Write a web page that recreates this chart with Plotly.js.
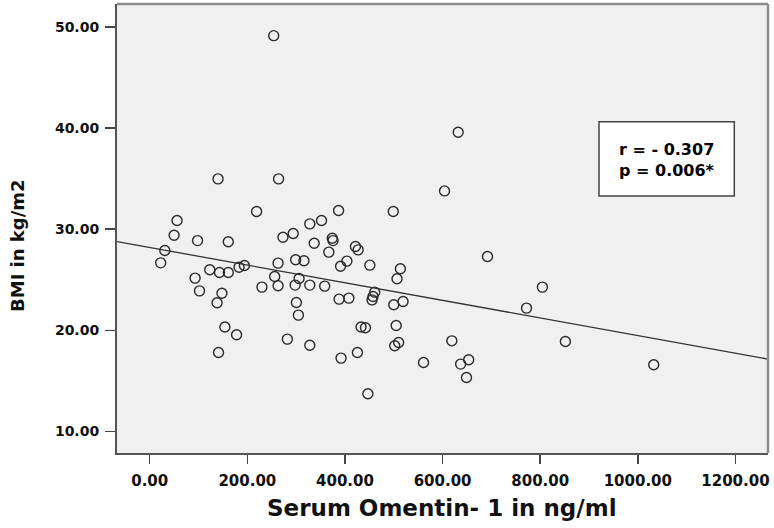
<!DOCTYPE html>
<html>
<head>
<meta charset="utf-8">
<script src="https://cdn.plot.ly/plotly-3.0.1.min.js"></script>
<style>html,body{margin:0;padding:0;background:#fff;}#chart{width:774px;height:528px;}</style>
</head>
<body>
<div id="chart"></div>
<script>
// Serum Omentin-1 (ng/ml) values
const omentin = [254, 140, 264, 219, 56, 328, 352, 632, 604, 387, 499, 50, 98, 161, 31, 22.5,
  123, 143, 161, 183, 194, 93, 230, 102, 148, 138, 154, 178, 141, 273, 294, 374, 375.5, 337,
  421.5, 427, 367, 263, 299, 316, 404, 391, 451, 256, 306, 263, 298, 328, 358.5, 388, 408,
  461, 457.5, 455.5, 300.5, 304.6, 433, 442, 282, 328, 392, 425.5, 447, 692, 513.6, 506.7,
  500, 519, 505, 502, 510, 619, 561, 637, 653.5, 649, 772, 804.5, 851.6, 1032.6];
// BMI (kg/m2) values
const bmi = [49.13, 34.97, 34.97, 31.74, 30.85, 30.52, 30.85, 39.58, 33.78, 31.84, 31.74, 29.4,
  28.87, 28.75, 27.89, 26.67, 25.98, 25.71, 25.71, 26.24, 26.4, 25.16, 24.27, 23.9, 23.67,
  22.72, 20.32, 19.56, 17.81, 29.2, 29.57, 29.1, 28.87, 28.6, 28.28, 27.95, 27.73, 26.64,
  26.97, 26.87, 26.84, 26.34, 26.44, 25.32, 25.12, 24.4, 24.47, 24.47, 24.37, 23.08, 23.18,
  23.77, 23.34, 23.01, 22.75, 21.5, 20.32, 20.25, 19.13, 18.53, 17.25, 17.81, 13.73, 27.29,
  26.08, 25.09, 22.52, 22.85, 20.47, 18.47, 18.8, 18.96, 16.82, 16.66, 17.09, 15.34, 22.19,
  24.27, 18.89, 16.59];
// Fit line
const fitIntercept = 28.19;
const fitSlope = -0.008713;
const xRange = [-67, 1266.7];
const yRange = [7.87, 52.26];
const xTicks = [0, 200, 400, 600, 800, 1000, 1200];
const yTicks = [10, 20, 30, 40, 50];
const statLines = ['r = - 0.307', 'p = 0.006*'];
const xTitle = 'Serum Omentin- 1 in ng/ml';
const yTitle = 'BMI in kg/m2';

const fitX = xRange.slice();
const fitY = fitX.map(x => fitIntercept + fitSlope * x);

const F = 'DejaVu Sans, Arial, sans-serif';

const traces = [
  {
    x: omentin, y: bmi, type: 'scatter', mode: 'markers',
    marker: {symbol: 'circle-open', size: 10, color: '#2a2a2a', line: {width: 1.4}},
    hoverinfo: 'x+y', showlegend: false
  },
  {
    x: fitX, y: fitY, type: 'scatter', mode: 'lines',
    line: {color: '#333', width: 1.3}, hoverinfo: 'skip', showlegend: false
  }
];

// plot area in px: left 117, right 768, top 4, bottom 453
const L = 117, R = 768, T = 4, B = 453;
const px = v => (v - L) / (R - L);
const py = v => (B - v) / (B - T);

const layout = {
  width: 774, height: 528,
  margin: {l: L, r: 774 - R, t: T, b: 528 - B},
  paper_bgcolor: '#ffffff',
  plot_bgcolor: '#f0f0f0',
  xaxis: {
    range: xRange, tickvals: xTicks, ticktext: xTicks.map(v => v.toFixed(2)),
    ticks: 'outside', ticklen: 9, tickwidth: 1.5, tickcolor: '#444',
    showline: true, linecolor: '#555', linewidth: 2,
    showgrid: false, zeroline: false,
    tickfont: {family: F, size: 15, color: '#111', weight: 'bold'},
    ticklabelstandoff: 4
  },
  yaxis: {
    range: yRange, tickvals: yTicks, ticktext: yTicks.map(v => v.toFixed(2)),
    ticks: 'outside', ticklen: 10, tickwidth: 1.5, tickcolor: '#444',
    showline: true, linecolor: '#555', linewidth: 2,
    showgrid: false, zeroline: false,
    tickfont: {family: F, size: 14, color: '#111', weight: 'bold'},
    ticklabelstandoff: 3
  },
  shapes: [
    {type: 'line', xref: 'paper', yref: 'paper', x0: 0, x1: 1, y0: 1, y1: 1,
      line: {color: '#8c8c8c', width: 2.5}},
    {type: 'line', xref: 'paper', yref: 'paper', x0: 1, x1: 1, y0: 0, y1: 1,
      line: {color: '#8c8c8c', width: 2.5}},
    {type: 'rect', xref: 'paper', yref: 'paper',
      x0: px(599), x1: px(734.3), y0: py(196), y1: py(121.7),
      fillcolor: '#ffffff', line: {color: '#444', width: 1.5}}
  ],
  annotations: [
    {xref: 'paper', yref: 'paper', x: px(667), y: py(160), xanchor: 'center', yanchor: 'middle',
      text: statLines.join('<br>'), align: 'left', showarrow: false,
      font: {family: F, size: 16, color: '#000', weight: 'bold'}},
    {xref: 'paper', yref: 'paper', x: px(442), y: py(508), xanchor: 'center', yanchor: 'middle',
      text: xTitle, showarrow: false, font: {family: F, size: 23, color: '#111', weight: 'bold'}},
    {xref: 'paper', yref: 'paper', x: px(17), y: py(246), xanchor: 'center', yanchor: 'middle',
      text: yTitle, textangle: -90, showarrow: false, font: {family: F, size: 18, color: '#111', weight: 'bold'}}
  ]
};

Plotly.newPlot('chart', traces, layout, {staticPlot: true, displayModeBar: false});
</script>
</body>
</html>
